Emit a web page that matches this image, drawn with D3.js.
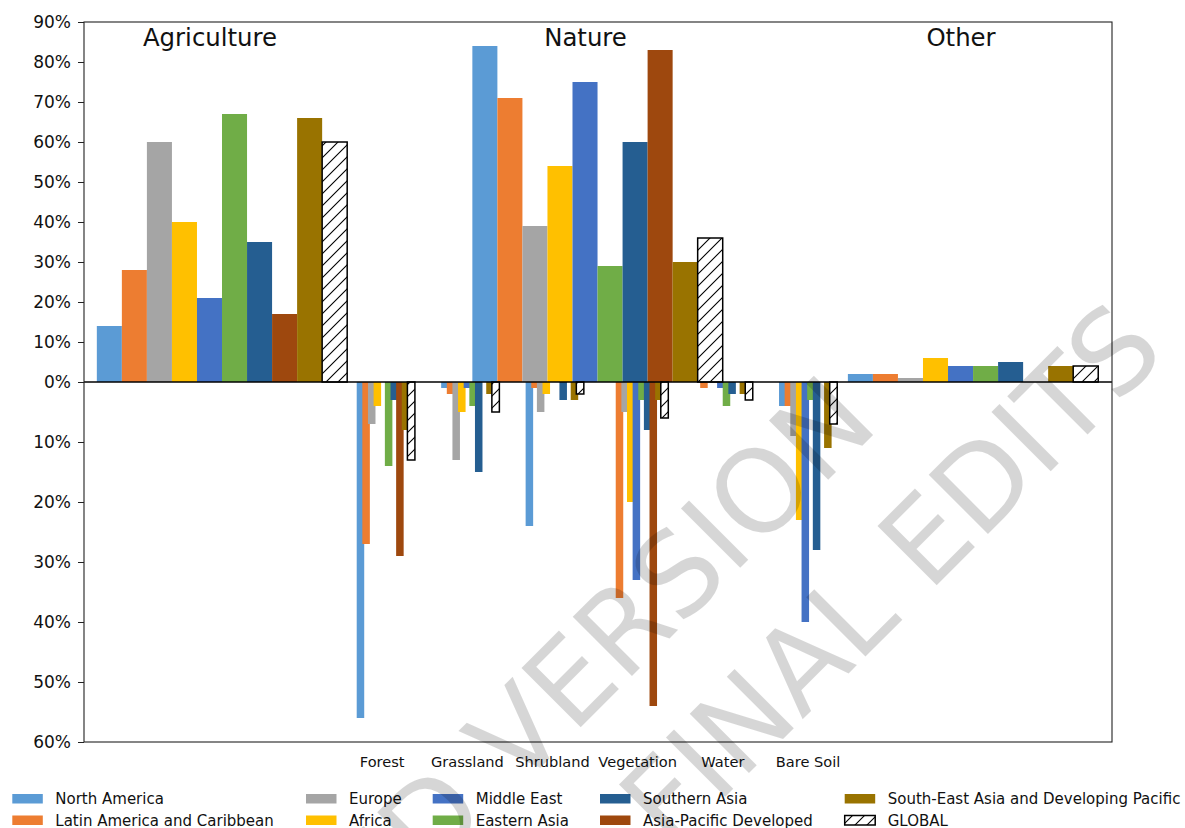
<!DOCTYPE html>
<html><head><meta charset="utf-8">
<script src="https://cdn.jsdelivr.net/npm/d3@7"></script>
<style>
body{margin:0;background:#fff;}
svg{display:block;font-family:"DejaVu Sans",sans-serif;}
</style>
</head><body>
<svg id="chart" width="1185" height="828"></svg>
<script>
// ---------- data ----------
const regions = ["North America","Latin America and Caribbean","Europe","Africa","Middle East","Eastern Asia","Southern Asia","Asia-Pacific Developed","South-East Asia and Developing Pacific","GLOBAL"];
const regionColors = ["#5B9BD5","#ED7D31","#A5A5A5","#FFC000","#4472C4","#70AD47","#255E91","#9E480E","#997300","url(#hatch)"];

const gainGroups = ["Agriculture","Nature","Other"];
const agricultureGain = [14,28,60,40,21,67,35,17,66,60];
const natureGain      = [84,71,39,54,75,29,60,83,30,36];
const otherGain       = [2,2,1,6,4,4,5,0,4,4];

const landTypes = ["Forest","Grassland","Shrubland","Vegetation","Water","Bare Soil"];
const forestLoss     = [56,27,7,4,0,14,3,29,8,13];
const grasslandLoss  = [1,2,13,5,1,4,15,0,2,5];
const shrublandLoss  = [24,1,5,2,0,0,3,0,3,2];
const vegetationLoss = [0,36,5,20,33,3,8,54,3,6];
const waterLoss      = [0,1,0,0,1,4,2,0,2,3];
const bareSoilLoss   = [4,4,9,23,40,3,28,0,11,7];

const yTickValues = [-60,-50,-40,-30,-20,-10,0,10,20,30,40,50,60,70,80,90];

const watermarkLines = ["ACCEPTED VERSION","SUBJECT TO FINAL EDITS"];

// ---------- build tables ----------
const gainTable = [agricultureGain, natureGain, otherGain];
const lossTable = [forestLoss, grasslandLoss, shrublandLoss, vegetationLoss, waterLoss, bareSoilLoss];

// ---------- layout ----------
const L = 84, R = 1112, T = 22, B = 742;
const svg = d3.select("#chart");

const defs = svg.append("defs");
const pat = defs.append("pattern").attr("id","hatch").attr("patternUnits","userSpaceOnUse")
  .attr("width",12).attr("height",12);
pat.append("rect").attr("width",12).attr("height",12).attr("fill","#fff");
pat.append("path").attr("d","M-3,3 L3,-3 M0,12 L12,0 M9,15 L15,9")
  .attr("stroke","#000").attr("stroke-width",1.1);

const x = d3.scaleLinear().domain([-0.3675, 2.370]).range([L, R]);
const y = d3.scaleLinear().domain([-60, 0, 90]).range([B, 382, T]);
const groupU = d3.scalePoint().domain(gainGroups).range([0, 2]);
const landU = d3.scalePoint().domain(landTypes).range([0.4362, 1.5608]);
const landLabelU = d3.scalePoint().domain(landTypes).range([0.4266, 1.5606]);

const nS = regions.length;
const gainW = 1/15;
const lossStep = 0.015, lossW = 0.02;

const gBars = svg.append("g");
regions.forEach((r, i) => {
  const isGlobal = r === "GLOBAL";
  gainGroups.forEach((g, gi) => {
    const v = gainTable[gi][i];
    if (v <= 0) return;
    const c = groupU(g) + (i - (nS-1)/2) * gainW;
    gBars.append("rect")
      .attr("x", x(c - gainW/2)).attr("width", x(c + gainW/2) - x(c - gainW/2))
      .attr("y", y(v)).attr("height", y(0) - y(v))
      .attr("fill", regionColors[i])
      .attr("stroke", isGlobal ? "#000" : "none")
      .attr("stroke-width", isGlobal ? 1.5 : 0);
  });
  landTypes.forEach((lt, li) => {
    const v = lossTable[li][i];
    if (v <= 0) return;
    const c = landU(lt) + (i - (nS-1)/2) * lossStep;
    gBars.append("rect")
      .attr("x", x(c - lossW/2)).attr("width", x(c + lossW/2) - x(c - lossW/2))
      .attr("y", y(0)).attr("height", y(-v) - y(0))
      .attr("fill", regionColors[i])
      .attr("stroke", isGlobal ? "#000" : "none")
      .attr("stroke-width", isGlobal ? 1.5 : 0);
  });
});

// zero line
svg.append("line").attr("x1", L).attr("x2", R).attr("y1", y(0)).attr("y2", y(0))
  .attr("stroke","#000").attr("stroke-width",1.5);

// frame
svg.append("rect").attr("x",L).attr("y",T).attr("width",R-L).attr("height",B-T)
  .attr("fill","none").attr("stroke","#222").attr("stroke-width",1.1);

// y axis
const yAxis = d3.axisLeft(y).tickValues(yTickValues).tickSize(6).tickPadding(7)
  .tickFormat(d => Math.abs(d) + "%");
const ya = svg.append("g").attr("transform",`translate(${L},0)`).call(yAxis);
ya.select(".domain").remove();
ya.selectAll("text").attr("font-size",17).attr("fill","#111").attr("font-family","DejaVu Sans");
ya.selectAll("line").attr("stroke","#222");

// category labels
svg.append("g").selectAll("text").data(landTypes).join("text")
  .attr("x", d => x(landLabelU(d))).attr("y", 767)
  .attr("text-anchor","middle").attr("font-size",14.6).attr("fill","#111")
  .text(d => d);

// group titles
svg.append("g").selectAll("text").data(gainGroups).join("text")
  .attr("x", d => x(groupU(d) - 0.032)).attr("y", 46)
  .attr("text-anchor","middle").attr("font-size",24.4).attr("fill","#111")
  .text(d => d);

// legend (5 columns, column-major, 2 rows)
const leg = svg.append("g");
const rowsY = [804, 825.5];
const legendColX = [12.3, 306, 432.7, 600, 844.7];
const swW = 30.5, swH = 9.5, textOff = 43;
for (let col = 0; col < 5; col++) {
  for (let row = 0; row < 2; row++) {
    const i = col*2 + row;
    const isGlobal = regions[i] === "GLOBAL";
    leg.append("rect").attr("x", legendColX[col]).attr("y", rowsY[row] - 10).attr("width", swW).attr("height", swH)
      .attr("fill", regionColors[i])
      .attr("stroke", isGlobal ? "#000" : "none").attr("stroke-width", isGlobal ? 1.5 : 0);
    leg.append("text").attr("x", legendColX[col] + textOff).attr("y", rowsY[row])
      .attr("font-size",15.0).attr("fill","#111").text(regions[i]);
  }
}

// watermark
const wm = svg.append("g").attr("font-size",115).attr("fill","#000").attr("fill-opacity",0.16)
  .attr("font-family","DejaVu Sans").attr("text-anchor","end");
const wmAnchors = [[881,427],[1168,354]];
watermarkLines.forEach((s, k) => {
  wm.append("text").attr("transform",`translate(${wmAnchors[k][0]},${wmAnchors[k][1]}) rotate(-45)`).text(s);
});
</script>
</body></html>
